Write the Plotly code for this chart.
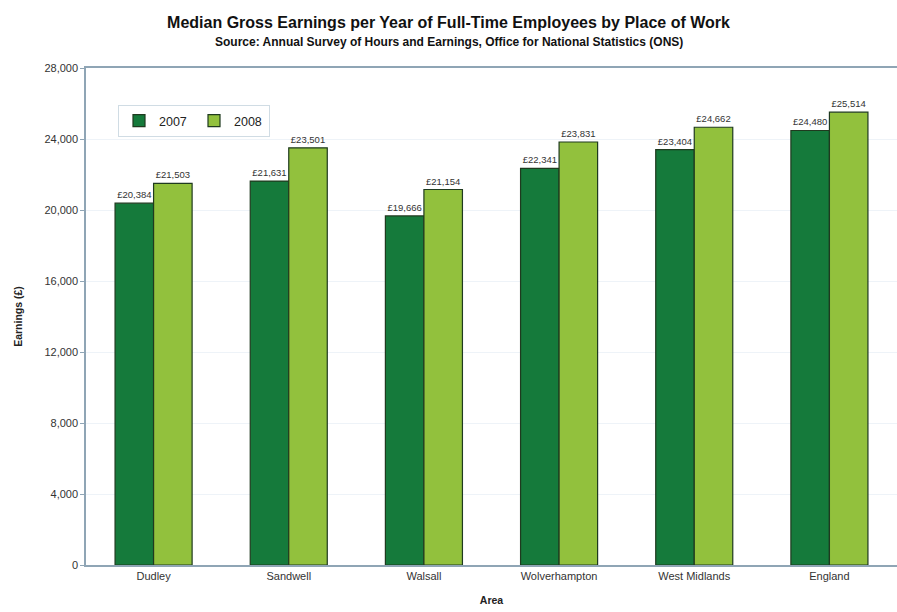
import plotly.graph_objects as go

areas = ["Dudley", "Sandwell", "Walsall", "Wolverhampton", "West Midlands", "England"]
earn_2007 = [20384, 21631, 19666, 22341, 23404, 24480]
earn_2008 = [21503, 23501, 21154, 23831, 24662, 25514]
y_ticks = [0, 4000, 8000, 12000, 16000, 20000, 24000, 28000]

FONT = "Liberation Sans, Arial, sans-serif"
W, H = 897, 612
PL, PT, PB = 86, 68, 565

def lab(v):
    return ["£{:,}".format(x) for x in v]

fig = go.Figure()
fig.add_trace(go.Bar(
    name="2007", x=areas, y=earn_2007, text=lab(earn_2007),
    textposition="outside", textfont=dict(size=9.5, color="#333333", family=FONT),
    marker=dict(color="#157a3b", line=dict(color="#1f3a1f", width=1.2)),
    cliponaxis=False,
))
fig.add_trace(go.Bar(
    name="2008", x=areas, y=earn_2008, text=lab(earn_2008),
    textposition="outside", textfont=dict(size=9.5, color="#333333", family=FONT),
    marker=dict(color="#92c13d", line=dict(color="#1f3a1f", width=1.2)),
    cliponaxis=False,
))

fig.update_layout(
    width=W, height=H,
    paper_bgcolor="white", plot_bgcolor="white",
    margin=dict(l=0, r=0, t=0, b=0, autoexpand=False),
    barmode="group", bargap=0.43, bargroupgap=0,
    font=dict(family=FONT, color="#333333"),
    title=dict(
        text="<b>Median Gross Earnings per Year of Full-Time Employees by Place of Work</b>",
        x=0.5, xanchor="center", xref="paper", y=1 - 22 / H, yanchor="middle",
        font=dict(size=16, color="#111111", family=FONT),
    ),
    annotations=[dict(
        text="<b>Source: Annual Survey of Hours and Earnings, Office for National Statistics (ONS)</b>",
        x=0.5, xref="paper", xanchor="center", y=1 - 42 / H, yref="paper", yanchor="middle",
        showarrow=False, font=dict(size=12, color="#111111", family=FONT),
    )],
    legend=dict(
        orientation="h", x=118 / W, y=1 - 105 / H, xanchor="left", yanchor="top",
        bgcolor="white", bordercolor="#d0dce4", borderwidth=1,
        font=dict(size=12.5, color="#222222"),
        entrywidth=30, tracegroupgap=0, itemwidth=30, traceorder="normal",
    ),
    xaxis=dict(
        domain=[PL / W, 1],
        automargin=False,
        title=dict(text="<b>Area</b>", font=dict(size=10.5, color="#222222"), standoff=16),
        tickfont=dict(size=11, color="#333333"),
        showline=True, linecolor="#8fa5b5", linewidth=1.5,
        ticks="", mirror=True,
    ),
    yaxis=dict(
        domain=[1 - PB / H, 1 - PT / H],
        automargin=False,
        title=dict(text="<b>Earnings (£)</b>", font=dict(size=10.5, color="#222222"), standoff=20),
        range=[0, 28000], tickvals=y_ticks, tickformat=",d",
        tickfont=dict(size=11, color="#333333"),
        showline=True, linecolor="#8fa5b5", linewidth=1.5, mirror=True,
        showgrid=True, gridcolor="#eef3f8", gridwidth=1,
        ticks="outside", ticklen=4, tickcolor="#8fa5b5",
        zeroline=False,
    ),
)

fig.write_html("out.html", config={"displayModeBar": False},
               post_script="document.body.style.margin='0';")
